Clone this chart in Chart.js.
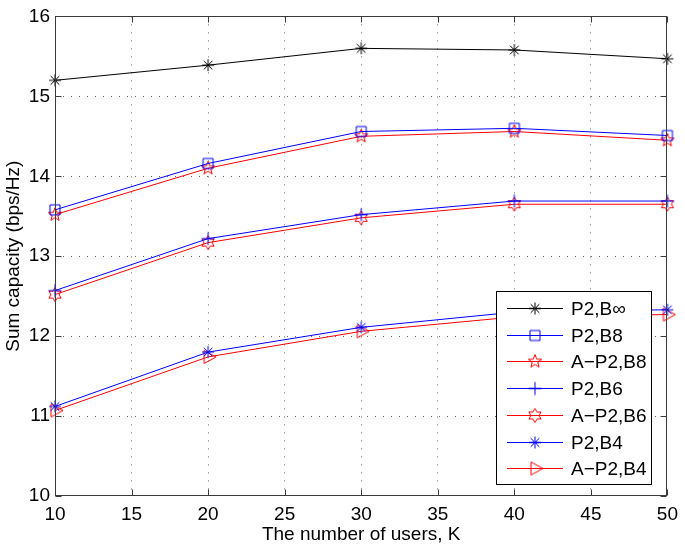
<!DOCTYPE html>
<html>
<head>
<meta charset="utf-8">
<script src="https://cdn.jsdelivr.net/npm/chart.js@4/dist/chart.umd.min.js"></script>
<style>
  html, body { margin: 0; padding: 0; background: #fff; }
  #wrap { width: 685px; height: 546px; }
</style>
</head>
<body>
<div id="wrap"><canvas id="chart" width="685" height="546"></canvas></div>
<script>
  // Data
  const users = [10, 20, 30, 40, 50];
  const p2BInf = [15.20, 15.39, 15.60, 15.58, 15.47];
  const p2B8 = [13.58, 14.16, 14.56, 14.60, 14.51];
  const aP2B8 = [13.52, 14.10, 14.50, 14.56, 14.45];
  const p2B6 = [12.57, 13.22, 13.52, 13.69, 13.69];
  const aP2B6 = [12.52, 13.17, 13.48, 13.65, 13.65];
  const p2B4 = [11.12, 11.80, 12.11, 12.30, 12.33];
  const aP2B4 = [11.07, 11.74, 12.06, 12.24, 12.27];
  const seriesLabels = ['P2,B\u221e', 'P2,B8', 'A\u2212P2,B8', 'P2,B6', 'A\u2212P2,B6', 'P2,B4', 'A\u2212P2,B4'];
  const xTicks = [10, 15, 20, 25, 30, 35, 40, 45, 50];
  const yTicks = [10, 11, 12, 13, 14, 15, 16];

  const FONT = '"Liberation Sans", Arial, Helvetica, sans-serif';

  // MATLAB-like hollow markers drawn on small canvases
  function makeMarker(kind, color) {
    const S = 22, c = S / 2;
    const cv = document.createElement('canvas');
    cv.width = S; cv.height = S;
    const g = cv.getContext('2d');
    g.strokeStyle = color;
    g.lineWidth = 1;
    g.beginPath();
    if (kind === 'asterisk') {
      const r = 6, d = r * 0.72;
      g.moveTo(c - r, c); g.lineTo(c + r, c);
      g.moveTo(c, c - r); g.lineTo(c, c + r);
      g.moveTo(c - d, c - d); g.lineTo(c + d, c + d);
      g.moveTo(c - d, c + d); g.lineTo(c + d, c - d);
    } else if (kind === 'square') {
      g.rect(c - 5, c - 5, 10, 10);
    } else if (kind === 'plus') {
      g.moveTo(c - 6.5, c); g.lineTo(c + 6.5, c);
      g.moveTo(c, c - 6.5); g.lineTo(c, c + 6.5);
    } else if (kind === 'pentagram' || kind === 'hexagram') {
      const n = kind === 'pentagram' ? 5 : 6;
      const ro = 7, ri = kind === 'pentagram' ? 2.9 : 4.0;
      for (let i = 0; i < 2 * n; i++) {
        const a = -Math.PI / 2 + i * Math.PI / n;
        const r = i % 2 === 0 ? ro : ri;
        const px = c + r * Math.cos(a), py = c + r * Math.sin(a);
        if (i === 0) g.moveTo(px, py); else g.lineTo(px, py);
      }
      g.closePath();
    } else if (kind === 'triright') {
      g.moveTo(c - 4, c - 6.5);
      g.lineTo(c + 8, c);
      g.lineTo(c - 4, c + 6.5);
      g.closePath();
    }
    g.stroke();
    return cv;
  }

  const seriesValues = [p2BInf, p2B8, aP2B8, p2B6, aP2B6, p2B4, aP2B4];
  const seriesColors = ['#000000', '#0000ff', '#ff0000', '#0000ff', '#ff0000', '#0000ff', '#ff0000'];
  const seriesMarkers = ['asterisk', 'square', 'pentagram', 'plus', 'hexagram', 'asterisk', 'triright'];

  const datasets = seriesValues.map((vals, i) => ({
    label: seriesLabels[i],
    data: users.map((x, j) => ({ x: x, y: vals[j] })),
    borderColor: seriesColors[i],
    borderWidth: 1,
    backgroundColor: 'transparent',
    pointStyle: makeMarker(seriesMarkers[i], seriesColors[i]),
    pointRadius: 7,
    tension: 0,
    clip: false
  }));

  // Box around the axes with inward ticks on all sides
  const framePlugin = {
    id: 'frame',
    afterDatasetsDraw(chart) {
      const { ctx, chartArea: a, scales } = chart;
      ctx.save();
      ctx.strokeStyle = '#3a3a3a';
      ctx.lineWidth = 1;
      const L = Math.round(a.left) + 0.5, R = Math.round(a.right) - 0.5;
      const T = Math.round(a.top) + 0.5, B = Math.round(a.bottom) - 0.5;
      ctx.strokeRect(L, T, R - L, B - T);
      ctx.beginPath();
      const tl = 6;
      xTicks.forEach(v => {
        const px = Math.round(scales.x.getPixelForValue(v)) + 0.5;
        ctx.moveTo(px, B); ctx.lineTo(px, B - tl);
        ctx.moveTo(px, T); ctx.lineTo(px, T + tl);
      });
      yTicks.forEach(v => {
        const py = Math.round(scales.y.getPixelForValue(v)) + 0.5;
        ctx.moveTo(L, py); ctx.lineTo(L + tl, py);
        ctx.moveTo(R, py); ctx.lineTo(R - tl, py);
      });
      ctx.stroke();
      ctx.restore();
    }
  };

  // Legend box inside the axes, line + marker per entry
  const boxLegend = {
    id: 'boxLegend',
    afterDraw(chart) {
      const { ctx } = chart;
      const bx = 496.5, by = 291.5, bw = 155, bh = 193;
      ctx.save();
      ctx.fillStyle = '#fff';
      ctx.fillRect(bx, by, bw, bh);
      ctx.strokeStyle = '#000';
      ctx.lineWidth = 1;
      ctx.strokeRect(bx, by, bw, bh);
      ctx.font = '19px ' + FONT;
      ctx.textBaseline = 'middle';
      ctx.textAlign = 'left';
      chart.data.datasets.forEach((ds, i) => {
        const y = Math.round(by + 16.5 + i * 26.7) + 0.5;
        ctx.strokeStyle = ds.borderColor;
        ctx.beginPath();
        ctx.moveTo(507, y); ctx.lineTo(563, y);
        ctx.stroke();
        const m = ds.pointStyle;
        ctx.drawImage(m, 535 - m.width / 2, y - m.height / 2);
        ctx.fillStyle = '#000';
        ctx.fillText(ds.label, 571, y + 1);
      });
      ctx.restore();
    }
  };

  function dottedGrid(min, max) {
    return {
      color: c => (c.tick && (c.tick.value === min || c.tick.value === max)) ? 'rgba(0,0,0,0)' : 'rgba(0,0,0,0.6)',
      lineWidth: 1,
      drawTicks: false
    };
  }

  new Chart(document.getElementById('chart'), {
    type: 'line',
    data: { datasets: datasets },
    options: {
      responsive: false,
      animation: false,
      events: [],
      layout: { padding: { top: 10, right: 7, left: 0, bottom: 0 } },
      plugins: { legend: { display: false }, tooltip: { enabled: false } },
      scales: {
        x: {
          type: 'linear',
          min: 10, max: 50,
          afterBuildTicks: s => { s.ticks = xTicks.map(v => ({ value: v })); },
          afterFit: s => { s.height = 50; },
          grid: dottedGrid(10, 50),
          border: { display: false, dash: [1, 7] },
          ticks: { color: '#000', font: { family: FONT, size: 19 }, padding: 7, maxRotation: 0 },
          title: {
            display: true, text: 'The number of users, K', color: '#000',
            font: { family: FONT, size: 19 }, padding: { top: 0, bottom: 0 }
          }
        },
        y: {
          min: 10, max: 16,
          afterBuildTicks: s => { s.ticks = yTicks.map(v => ({ value: v })); },
          afterFit: s => { s.width = 55; },
          grid: dottedGrid(10, 16),
          border: { display: false, dash: [1, 7] },
          ticks: { color: '#000', font: { family: FONT, size: 19 }, padding: 5 },
          title: {
            display: true, text: 'Sum capacity (bps/Hz)', color: '#000',
            font: { family: FONT, size: 19 }, padding: { top: 2, bottom: 0 }
          }
        }
      }
    },
    plugins: [framePlugin, boxLegend]
  });
</script>
</body>
</html>
